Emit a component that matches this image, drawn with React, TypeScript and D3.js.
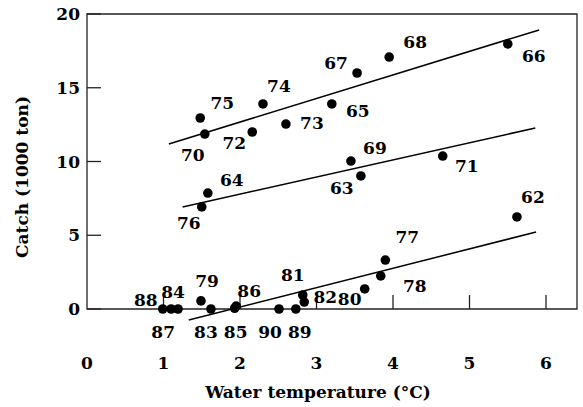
import React, {useEffect, useRef} from 'react';
import * as d3 from 'd3';

// chart size in px
const width = 583;
const height = 407;
const margin = {top: 14, right: 6, left: 87};
const zeroY = 309; // y pixel of the x axis (catch = 0)

// ---- data ----
const years = ['75', '70', '72', '74', '73', '65', '67', '68', '66',
    '64', '76', '69', '63', '71',
    '62', '77', '78', '80', '81', '82', '89', '90', '85', '86', '83', '79', '88', '87', '84'];
const waterTemps = [1.48, 1.54, 2.16, 2.30, 2.60, 3.20, 3.53, 3.95, 5.50,
    1.58, 1.50, 3.45, 3.58, 4.65,
    5.62, 3.90, 3.84, 3.63, 2.82, 2.84, 2.73, 2.51, 1.93, 1.95, 1.62, 1.49, 0.99, 1.10, 1.19];
const catches = [12.95, 11.86, 12.0, 13.9, 12.54, 13.9, 16.0, 17.08, 17.97,
    7.86, 6.92, 10.03, 9.02, 10.37,
    6.24, 3.32, 2.24, 1.36, 0.95, 0.47, 0, 0, 0.05, 0.2, 0, 0.55, 0, 0, 0];

// fitted lines: [x start, y start, x end, y end]
const trendLines = [
    [1.07, 11.19, 5.91, 18.92],
    [1.25, 6.92, 5.86, 12.27],
    [1.33, -0.75, 5.87, 5.22]
];

const xTicks = [0, 1, 2, 3, 4, 5, 6];
const yTicks = [0, 5, 10, 15, 20];

// where each year label sits relative to its dot (px)
const labelOffsets = [[22, -15], [-12, 21], [-18, 11], [16, -18], [26, -1], [26, 7], [-21, -10], [26, -15], [26, 12],
    [24, -13], [-13, 16], [24, -13], [-19, 12], [24, 10],
    [16, -20], [22, -23], [34, 10], [-15, 10], [-10, -20], [21, -5], [4, 23], [-9, 23], [1, 24], [13, -15], [-5, 23], [6, -20], [-17, -9], [-8, 23], [-5, -17]];

const font = "'DejaVu Serif', 'Liberation Serif', serif";

const App = () => {
    const anchor = useRef(null);

    useEffect(() => {
        const svg = d3.select(anchor.current);
        svg.selectAll('*').remove();

        const x = d3.scaleLinear().domain([0, 6.405]).range([margin.left, width - margin.right]);
        const y = d3.scaleLinear().domain([0, 20]).range([zeroY, margin.top]);

        const g = svg.append('g')
            .style('font-family', font)
            .style('font-weight', 'bold')
            .style('font-size', '17px');

        // frame: left, top, right and the zero line
        g.append('path')
            .attr('d', `M${x(0)},${y(0)}V${y(20)}H${x(6.405)}V${y(0)}Z`)
            .attr('fill', 'none')
            .attr('stroke', '#222')
            .attr('stroke-width', 1.3);

        // y ticks pointing inward
        g.selectAll('.ytick').data(yTicks).enter().append('line')
            .attr('x1', x(0)).attr('x2', x(0) + 14)
            .attr('y1', (d) => y(d)).attr('y2', (d) => y(d))
            .attr('stroke', '#222').attr('stroke-width', 1.3);
        g.selectAll('.ylab').data(yTicks).enter().append('text')
            .attr('x', x(0) - 7)
            .attr('y', (d) => y(d))
            .attr('dy', '0.36em')
            .attr('text-anchor', 'end')
            .text((d) => d);

        // x ticks pointing up from the zero line
        g.selectAll('.xtick').data(xTicks.filter((d) => d > 0)).enter().append('line')
            .attr('x1', (d) => x(d)).attr('x2', (d) => x(d))
            .attr('y1', y(0)).attr('y2', y(0) - 14)
            .attr('stroke', '#222').attr('stroke-width', 1.3);
        g.selectAll('.xlab').data(xTicks).enter().append('text')
            .attr('x', (d) => x(d))
            .attr('y', 363)
            .attr('dy', '0.36em')
            .attr('text-anchor', 'middle')
            .text((d) => d);

        // axis titles
        g.append('text')
            .attr('x', 318).attr('y', 392)
            .attr('dy', '0.36em')
            .attr('text-anchor', 'middle')
            .text('Water temperature (°C)');
        g.append('text')
            .attr('transform', 'translate(22,177) rotate(-90)')
            .attr('dy', '0.36em')
            .attr('text-anchor', 'middle')
            .text('Catch (1000 ton)');

        // fitted lines
        g.selectAll('.fit').data(trendLines).enter().append('line')
            .attr('x1', (d) => x(d[0])).attr('y1', (d) => y(d[1]))
            .attr('x2', (d) => x(d[2])).attr('y2', (d) => y(d[3]))
            .attr('stroke', 'black').attr('stroke-width', 1.5);

        // dots + year labels
        const idx = d3.range(years.length);
        g.selectAll('.dot').data(idx).enter().append('circle')
            .attr('cx', (i) => x(waterTemps[i]))
            .attr('cy', (i) => y(catches[i]))
            .attr('r', 4.8)
            .attr('fill', 'black');
        g.selectAll('.yr').data(idx).enter().append('text')
            .attr('x', (i) => x(waterTemps[i]) + labelOffsets[i][0])
            .attr('y', (i) => y(catches[i]) + labelOffsets[i][1])
            .attr('dy', '0.36em')
            .attr('text-anchor', 'middle')
            .text((i) => years[i]);
    }, []);

    return <svg ref={anchor} width={width} height={height}
                style={{position: 'absolute', left: 0, top: 0, background: 'white'}}/>;
};

export default App;
